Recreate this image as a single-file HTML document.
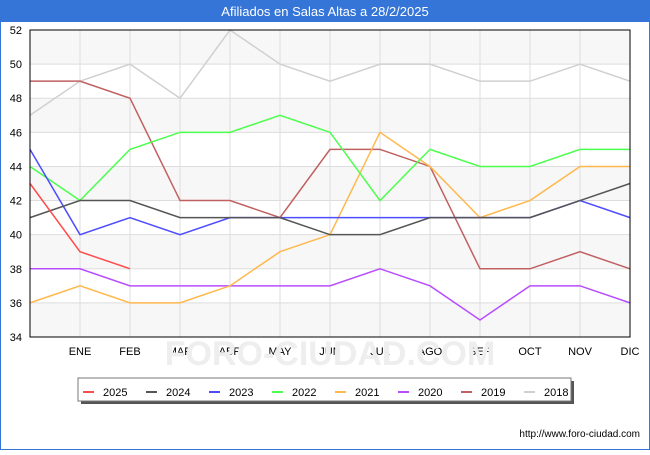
<!DOCTYPE html>
<html><head><meta charset="utf-8"><style>
body{margin:0;width:650px;height:450px;overflow:hidden;background:#fff;font-family:"Liberation Sans","DejaVu Sans",sans-serif}
</style></head><body>
<svg id="c" width="650" height="450" xmlns="http://www.w3.org/2000/svg">
<rect x="0" y="0" width="650" height="450" fill="#fff" stroke="#3575d8" stroke-width="2"/>
<rect x="0" y="0" width="650" height="22" fill="#3575d8"/>
<text x="325" y="16" text-anchor="middle" fill="#fff" font-size="13">Afiliados en Salas Altas a 28/2/2025</text>
<g id="plot"></g>
<text x="640" y="437" text-anchor="end" font-size="10" fill="#000">http://www.foro-ciudad.com</text>
</svg>
<script>
const months=["","ENE","FEB","MAR","ABR","MAY","JUN","JUL","AGO","SEP","OCT","NOV","DIC"];
const yTicks=[34,36,38,40,42,44,46,48,50,52];
const years=["2025","2024","2023","2022","2021","2020","2019","2018"];
const colors=["#ff4d4d","#555555","#4d4dff","#4dff4d","#ffb84d","#b84dff","#c06060","#d0d0d0"];
const s2025=[43,39,38];
const s2024=[41,42,42,41,41,41,40,40,41,41,41,42,43];
const s2023=[45,40,41,40,41,41,41,41,41,41,41,42,41];
const s2022=[44,42,45,46,46,47,46,42,45,44,44,45,45];
const s2021=[36,37,36,36,37,39,40,46,44,41,42,44,44];
const s2020=[38,38,37,37,37,37,37,38,37,35,37,37,36];
const s2019=[49,49,48,42,42,41,45,45,44,38,38,39,38];
const s2018=[47,49,50,48,52,50,49,50,50,49,49,50,49];
const series=[s2025,s2024,s2023,s2022,s2021,s2020,s2019,s2018];
const L=30,R=630,T=30,B=337,yMin=34,yMax=52;
const xs=i=>L+i*(R-L)/12;
const ys=v=>B-(v-yMin)/(yMax-yMin)*(B-T);
const NS="http://www.w3.org/2000/svg";
const g=document.getElementById("plot");
function mk(t,a){const e=document.createElementNS(NS,t);for(const k in a)e.setAttribute(k,a[k]);g.appendChild(e);return e;}
for(let i=0;i<yTicks.length-1;i++){
  const r=mk("rect",{x:L,y:ys(yTicks[i+1]),width:R-L,height:ys(yTicks[i])-ys(yTicks[i+1]),fill:(i%2==0)?"#f7f7f7":"#fff"});
  
  
}
yTicks.forEach(v=>{
  const l=mk("line",{x1:L,x2:R,y1:ys(v),y2:ys(v),stroke:"#ddd","stroke-width":1});
  
  
  const t=mk("text",{x:L-8,y:ys(v)+4,"text-anchor":"end","font-size":11,fill:"#000"});
  t.textContent=v;
  
  
});
months.forEach((m,i)=>{
  const l=mk("line",{x1:xs(i),x2:xs(i),y1:T,y2:B,stroke:"#ddd","stroke-width":1});
  
  
  const t=mk("text",{x:xs(i),y:B+18,"text-anchor":"middle","font-size":11,fill:"#000"});
  t.textContent=m;
  
  
});
const wm=mk("text",{x:330,y:365,"text-anchor":"middle","font-size":34,fill:"#eeeeee","font-weight":"bold"});
wm.textContent="FORO-CIUDAD.COM";


for(let k=series.length-1;k>=0;k--){
  const p=mk("polyline",{points:series[k].map((v,i)=>xs(i)+","+ys(v)).join(" "),fill:"none",stroke:colors[k],"stroke-width":1.5});
  
  
}
const fr=mk("rect",{x:L,y:T,width:R-L,height:B-T,fill:"none",stroke:"#000","stroke-width":1});


const sh=mk("rect",{x:81,y:381,width:493,height:23,fill:"#555"});


const lb=mk("rect",{x:78,y:378,width:493,height:23,fill:"#fff",stroke:"#777"});


years.forEach((y,i)=>{
  const x=83+i*63;
  const l=mk("line",{x1:x,x2:x+11,y1:392,y2:392,stroke:colors[i],"stroke-width":2});
  
  
  const t=mk("text",{x:x+20,y:396,"font-size":11,fill:"#000"});
  t.textContent=y;
  
  
});
</script>
</body></html>
